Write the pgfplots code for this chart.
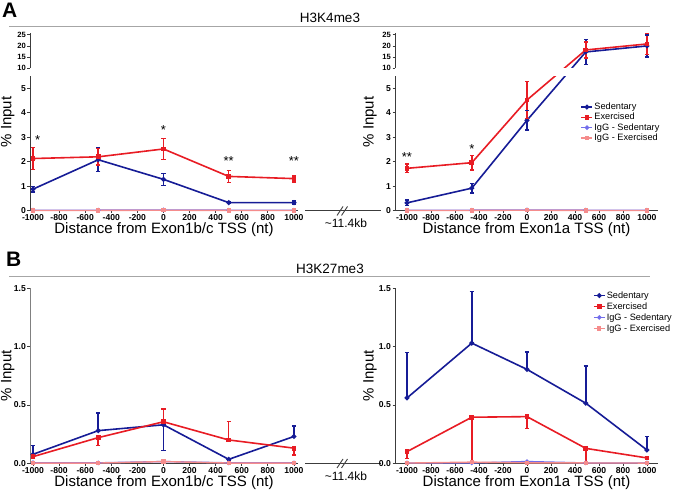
\documentclass[border=0pt]{standalone}
\usepackage{pgfplots}
\pgfplotsset{compat=1.18}
\usepackage{fontspec}
\setmainfont{Liberation Sans}
\definecolor{sedc}{RGB}{22,28,150}
\definecolor{exc}{RGB}{232,28,36}
\definecolor{igsc}{RGB}{115,110,235}
\definecolor{igec}{RGB}{245,140,140}
\definecolor{axc}{RGB}{60,60,60}

\tikzset{star/.style={font=\fontsize{13}{13}\selectfont, inner sep=0pt}}
\pgfplotsset{
  panel/.style={
    scale only axis, anchor=south west, clip=false,
    axis x line*=bottom, axis y line*=left,
    xtick={-1000,-800,...,1000},
    /pgf/number format/.cd, set thousands separator={}, assume math mode=true, /pgfplots/.cd,
    tick align=outside, major tick length=2.5pt,
    axis line style={line width=0.9pt, color=axc},
    every tick/.style={line width=0.8pt, color=axc},
    xticklabel style={font=\fontsize{8.6}{9}\selectfont\bfseries, inner sep=1.5pt},
    yticklabel style={font=\fontsize{8.6}{9}\selectfont\bfseries, inner sep=1.5pt},
    xlabel style={font=\fontsize{15}{16}\selectfont, at={(axis description cs:0.5,-0.108)}, anchor=center},
    ylabel style={font=\fontsize{15}{16}\selectfont, anchor=center},
    legend cell align=left,
    legend image code/.code={\draw[mark repeat=2,mark phase=2,##1] plot coordinates {(0pt,0pt) (5.5pt,0pt) (11pt,0pt)};},
  },
  brk/.style={
    y coord trafo/.code={\pgfmathparse{(##1<=5.5)?(##1):((##1>=10)?(5.82+(##1-10)*0.0906):(5.5+(##1-5.5)*0.0711))}},
    y coord inv trafo/.code={\pgfmathparse{(##1<=5.5)?(##1):((##1>=5.82)?(10+(##1-5.82)/0.0906):(5.5+(##1-5.5)/0.0711))}},
    ymin=0, ymax=25.7, height=177.4pt,
    ytick={0,1,2,3,4,5,10,15,20,25},
    yticklabels={0,1,2,3,4,5,{\fontsize{7.6}{8}\selectfont 10},{\fontsize{7.6}{8}\selectfont 15},{\fontsize{7.6}{8}\selectfont 20},{\fontsize{7.6}{8}\selectfont 25}},
    y axis line style={draw=none},
  },
  errs/.style={error bars/.cd, y dir=both, y explicit,
    error bar style={line width=1.5pt, solid}, error mark options={rotate=90, mark size=2.2pt, line width=1.3pt}},
  sedp/.style={color=sedc, line width=1.6pt, mark=*, mark size=1.6pt},
  exerp/.style={color=exc, line width=1.6pt, mark=square*, mark size=1.6pt},
  igs/.style={color=igsc, line width=1.4pt, mark=*, mark size=1.5pt},
  ige/.style={color=igec, line width=1.4pt, mark=square*, mark size=1.5pt},
  ebar/.style={forget plot, line width=1.5pt, mark=-, mark size=2.2pt, mark options={line width=1.3pt, solid}},
}

\begin{document}
\begin{tikzpicture}[x=1pt,y=1pt]
\useasboundingbox (0,0) rectangle (675,493);

% headers
\node[anchor=west, inner sep=0pt, font=\fontsize{21}{21}\selectfont\bfseries] at (2,482.5) {A};
\node[anchor=west, inner sep=0pt, font=\fontsize{21}{21}\selectfont\bfseries] at (6,233.5) {B};
\node[inner sep=0pt, font=\fontsize{13.5}{14}\selectfont] at (330,475.5) {H3K4me3};
\node[inner sep=0pt, font=\fontsize{13.5}{14}\selectfont] at (330,224) {H3K27me3};
\draw[black!35, line width=0.8pt] (9,467) -- (650,467);
\draw[black!35, line width=0.8pt] (9,217) -- (650,217);

% break markers
\draw[axc, line width=1pt] (305,282.3) -- (381,282.3);
\draw[axc, line width=0.9pt] (337,277.5) -- (343,286.5) (341.5,277.5) -- (347.5,286.5);
\node[inner sep=0pt, font=\fontsize{12}{12}\selectfont] at (346,270) {\textasciitilde11.4kb};
\draw[axc, line width=1pt] (305,29.7) -- (381,29.7);
\draw[axc, line width=0.9pt] (337,25) -- (343,34) (341.5,25) -- (347.5,34);
\node[inner sep=0pt, font=\fontsize{12}{12}\selectfont] at (346,16.5) {\textasciitilde11.4kb};

% ---------- A left ----------
\begin{axis}[panel, brk, at={(30pt,282.3pt)}, width=268pt,
  xmin=-1023, xmax=1031,
  xlabel={Distance from Exon1b/c TSS (nt)},
  ylabel={\% Input}, ylabel style={at={(axis description cs:-0.083,0.5)}}]
\addplot[sedp, errs] coordinates {(-1000,0.88) +- (0,0.12) (-500,2.08) +- (0,0.48) (0,1.28) +- (0,0.25) (500,0.33) +- (0,0.05) (1000,0.33) +- (0,0.06)};
\addplot[exerp, errs] coordinates {(-1000,2.13) +- (0,0.45) (-500,2.2) +- (0,0.33) (0,2.52) +- (0,0.42) (500,1.4) +- (0,0.25) (1000,1.31) +- (0,0.14)};
\addplot[igs] coordinates {(-1000,0.02) (-500,0.02) (0,0.03) (500,0.02) (1000,0.02)};
\addplot[ige] coordinates {(-1000,0.01) (-500,0.01) (0,0.02) (500,0.01) (1000,0.01)};
\fill[white] (axis cs:-1023,5.55) rectangle (axis cs:1031,9.95);
\draw[axc, line width=0.9pt] (axis cs:-1023,0) -- (axis cs:-1023,5.5);
\draw[axc, line width=0.9pt] (axis cs:-1023,10) -- (axis cs:-1023,25.7);
\node[star] at (axis cs:-965,2.9) {*};
\node[star] at (axis cs:0,3.28) {*};
\node[star] at (axis cs:500,2.04) {**};
\node[star] at (axis cs:1000,2.04) {**};
\end{axis}

% ---------- A right ----------
\begin{axis}[panel, brk, at={(395pt,282.3pt)}, width=263pt,
  xmin=-1100, xmax=1092,
  xlabel={Distance from Exon1a TSS (nt)},
  ylabel={\% Input}, ylabel style={at={(axis description cs:-0.095,0.5)}},
  legend style={at={(axis description cs:0.705,0.615)}, anchor=north west, draw=none, fill=none,
    font=\fontsize{9.2}{10}\selectfont, row sep=-0.3pt, inner sep=0pt, nodes={inner sep=1.2pt}}]
\addplot[sedp] coordinates {(-1000,0.32) (-460,0.92) (0,3.69) (490,17.3) (1000,20.0)};
\addplot[exerp] coordinates {(-1000,1.73) (-460,1.96) (0,4.52) (490,18.2) (1000,20.9)};
\addplot[igs] coordinates {(-1000,0.02) (-460,0.02) (0,0.03) (490,0.02) (1000,0.02)};
\addplot[ige] coordinates {(-1000,0.01) (-460,0.01) (0,0.02) (490,0.01) (1000,0.01)};
\legend{Sedentary, Exercised, IgG - Sedentary, IgG - Exercised}
% error bars (lower and upper ends, raw % input)
\addplot[ebar, sedc] coordinates {(-1000,0.20) (-1000,0.44)};
\addplot[ebar, sedc] coordinates {(-460,0.72) (-460,1.12)};
\addplot[ebar, sedc] coordinates {(0,3.29) (0,4.09)};
\addplot[ebar, sedc] coordinates {(490,11.8) (490,22.8)};
\addplot[ebar, sedc] coordinates {(1000,15.0) (1000,25.0)};
\addplot[ebar, exc] coordinates {(-1000,1.55) (-1000,1.91)};
\addplot[ebar, exc] coordinates {(-460,1.66) (-460,2.26)};
\addplot[ebar, exc] coordinates {(0,3.77) (0,5.27)};
\addplot[ebar, exc] coordinates {(490,14.6) (490,21.8)};
\addplot[ebar, exc] coordinates {(1000,16.3) (1000,25.5)};
\fill[white] (axis cs:-1100,5.55) rectangle (axis cs:1092,9.95);
\draw[axc, line width=0.9pt] (axis cs:-1100,0) -- (axis cs:-1100,5.5);
\draw[axc, line width=0.9pt] (axis cs:-1100,10) -- (axis cs:-1100,25.7);
\node[star] at (axis cs:-1000,2.18) {**};
\node[star] at (axis cs:-460,2.5) {*};
\end{axis}

% ---------- B left ----------
\begin{axis}[panel, at={(30pt,29.7pt)}, width=268pt, height=175pt,
  xmin=-1023, xmax=1031, ymin=0, ymax=1.5,
  ytick={0,0.5,1,1.5}, yticklabels={0.0,0.5,1.0,1.5},
  y axis line style={color=black!50},
  xlabel={Distance from Exon1b/c TSS (nt)},
  ylabel={\% Input}, ylabel style={at={(axis description cs:-0.083,0.5)}}]
\addplot[sedp, errs] coordinates {(-1000,0.077) += (0,0.075) -= (0,0) (-500,0.28) += (0,0.15) -= (0,0) (0,0.33) += (0,0) -= (0,0.22) (500,0.034) += (0,0.01) -= (0,0.01) (1000,0.23) += (0,0.09) -= (0,0)};
\addplot[exerp, errs] coordinates {(-1000,0.057) += (0,0.015) -= (0,0.015) (-500,0.22) += (0,0) -= (0,0.065) (0,0.356) += (0,0.11) -= (0,0) (500,0.2) += (0,0.156) -= (0,0) (1000,0.13) += (0,0) -= (0,0.06)};
\addplot[igs] coordinates {(-1000,0.005) (-500,0.004) (0,0.015) (500,0.004) (1000,0.004)};
\addplot[ige] coordinates {(-1000,0.002) (-500,0.002) (0,0.015) (500,0.002) (1000,0.002)};
\end{axis}

% ---------- B right ----------
\begin{axis}[panel, at={(395pt,29.7pt)}, width=263pt, height=175pt,
  xmin=-1100, xmax=1092, ymin=0, ymax=1.5,
  ytick={0,0.5,1,1.5}, yticklabels={0.0,0.5,1.0,1.5},
  xlabel={Distance from Exon1a TSS (nt)},
  ylabel={\% Input}, ylabel style={at={(axis description cs:-0.095,0.5)}},
  legend style={at={(axis description cs:0.752,0.99)}, anchor=north west, draw=none, fill=none,
    font=\fontsize{9.2}{10}\selectfont, row sep=0.4pt, inner sep=0pt, nodes={inner sep=1.2pt}}]
\addplot[sedp, errs] coordinates {(-1000,0.56) += (0,0.39) -= (0,0) (-460,1.03) += (0,0.44) -= (0,0) (0,0.805) += (0,0.15) -= (0,0) (490,0.515) += (0,0.32) -= (0,0) (1000,0.114) += (0,0.114) -= (0,0)};
\addplot[exerp, errs] coordinates {(-1000,0.1) += (0,0) -= (0,0.057) (-460,0.395) += (0,0) -= (0,0.395) (0,0.4) += (0,0) -= (0,0.1) (490,0.128) += (0,0) -= (0,0.128) (1000,0.046) += (0,0) -= (0,0.01)};
\addplot[igs] coordinates {(-1000,0.003) (-460,0.003) (0,0.015) (490,0.003) (1000,0.003)};
\addplot[ige] coordinates {(-1000,0.002) (-460,0.01) (0,0.004) (490,0.003) (1000,0.002)};
\legend{Sedentary, Exercised, IgG - Sedentary, IgG - Exercised}
\end{axis}
\end{tikzpicture}
\end{document}
